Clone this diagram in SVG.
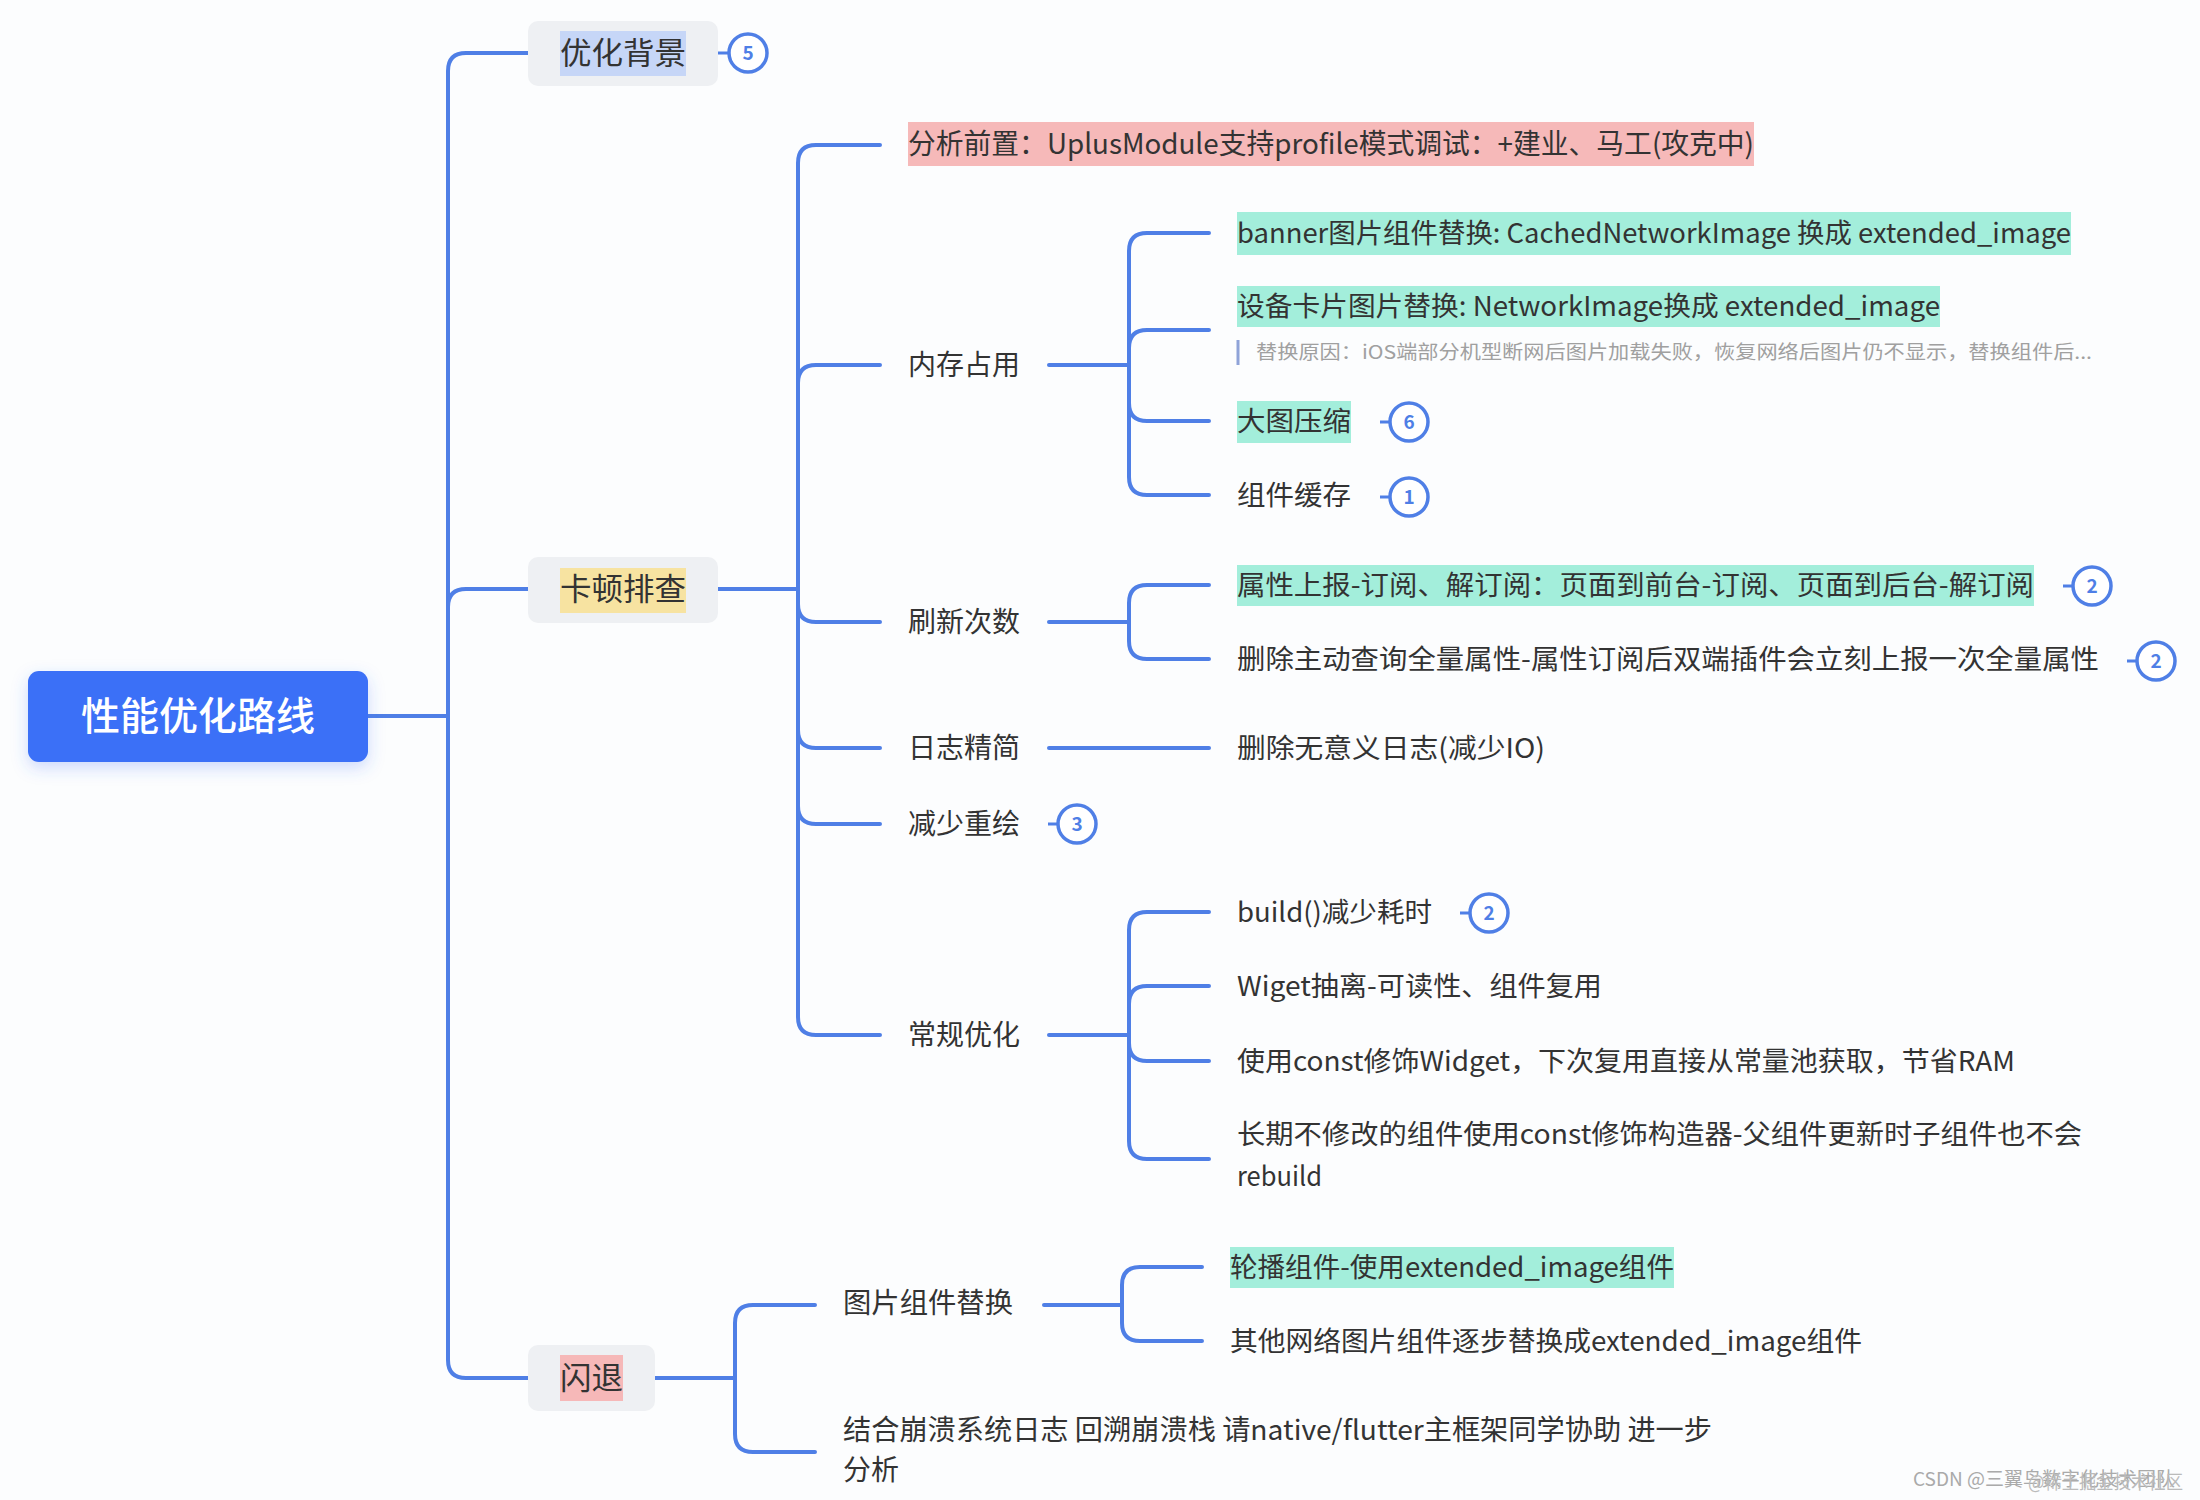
<svg xmlns="http://www.w3.org/2000/svg" width="2200" height="1500" viewBox="0 0 2200 1500">
<defs>
<filter id="sh" x="-20%" y="-30%" width="140%" height="170%">
<feDropShadow dx="0" dy="6" stdDeviation="8" flood-color="#3a6ff7" flood-opacity="0.25"/>
</filter>
<style>
text{font-family:"Noto Sans CJK SC","Noto Sans",sans-serif;fill:#333;}
.c{fill:none;stroke:#4f7fe6;stroke-width:4;stroke-linecap:round;}
.box{fill:#eef0f3;}
.l2{font-size:28px;}
.l3{font-size:27px;}
.teal{fill:#a3eedb;}
.pink{fill:#f6b9b9;}
.badge circle{fill:#fff;stroke:#4f7fe6;stroke-width:3.5;}
.badge line{stroke:#4f7fe6;stroke-width:3;}
.badge text{font-size:19px;font-weight:bold;fill:#4f7fe6;text-anchor:middle;}
.note{font-size:19px;fill:#a0a0a0;}
.wm{font-size:19px;fill:#aaa;}
</style>
</defs>
<rect width="2200" height="1500" fill="#fcfdfe"/>

<g id="connectors">
<path class="c" d="M368,716 H448"/>
<path class="c" d="M448,716 V71 Q448,53 466,53 H528"/>
<path class="c" d="M448,700 V607 Q448,589 466,589 H528"/>
<path class="c" d="M448,716 V1360 Q448,1378 466,1378 H528"/>
<path class="c" d="M718,589 H798"/>
<path class="c" d="M798,589 V163 Q798,145 816,145 H880"/>
<path class="c" d="M798,589 V383 Q798,365 816,365 H880"/>
<path class="c" d="M798,589 V604 Q798,622 816,622 H880"/>
<path class="c" d="M798,589 V730 Q798,748 816,748 H880"/>
<path class="c" d="M798,589 V806 Q798,824 816,824 H880"/>
<path class="c" d="M798,589 V1017 Q798,1035 816,1035 H880"/>
<path class="c" d="M1049,365 H1129"/>
<path class="c" d="M1129,365 V251 Q1129,233 1147,233 H1209"/>
<path class="c" d="M1129,365 V348 Q1129,330 1147,330 H1209"/>
<path class="c" d="M1129,365 V403 Q1129,421 1147,421 H1209"/>
<path class="c" d="M1129,365 V477 Q1129,495 1147,495 H1209"/>
<path class="c" d="M1049,622 H1129"/>
<path class="c" d="M1129,622 V603 Q1129,585 1147,585 H1209"/>
<path class="c" d="M1129,622 V641 Q1129,659 1147,659 H1209"/>
<path class="c" d="M1049,748 H1209"/>
<path class="c" d="M1049,1035 H1129"/>
<path class="c" d="M1129,1035 V930 Q1129,912 1147,912 H1209"/>
<path class="c" d="M1129,1035 V1004 Q1129,986 1147,986 H1209"/>
<path class="c" d="M1129,1035 V1043 Q1129,1061 1147,1061 H1209"/>
<path class="c" d="M1129,1035 V1141 Q1129,1159 1147,1159 H1209"/>
<path class="c" d="M655,1378 H735"/>
<path class="c" d="M735,1378 V1323 Q735,1305 753,1305 H815"/>
<path class="c" d="M735,1378 V1434 Q735,1452 753,1452 H815"/>
<path class="c" d="M1044,1305 H1122"/>
<path class="c" d="M1122,1305 V1285 Q1122,1267 1140,1267 H1202"/>
<path class="c" d="M1122,1305 V1323 Q1122,1341 1140,1341 H1202"/>
</g>

<g id="root">
<rect x="28" y="671" width="340" height="91" rx="11" fill="#3a6ff7" filter="url(#sh)"/>
<text x="198" y="730" font-size="39" text-anchor="middle" style="fill:#fff;font-weight:500">性能优化路线</text>
</g>

<g id="n-bg">
<rect class="box" x="528" y="21" width="190" height="65" rx="10"/>
<rect x="560" y="31" width="126" height="45" fill="#c6d6f7"/>
<text x="560" y="64" font-size="31" textLength="126" lengthAdjust="spacingAndGlyphs">优化背景</text>
<g class="badge"><line x1="718" y1="53" x2="728" y2="53"/><circle cx="748" cy="53" r="19"/><text x="748" y="60">5</text></g>
</g>

<g id="n-kd">
<rect class="box" x="528" y="557" width="190" height="66" rx="10"/>
<rect x="560" y="568" width="126" height="45" fill="#f7e3a1"/>
<text x="560" y="600" font-size="31" textLength="126" lengthAdjust="spacingAndGlyphs">卡顿排查</text>
</g>

<g id="n-st">
<rect class="box" x="528" y="1345" width="127" height="66" rx="10"/>
<rect x="560" y="1355" width="63" height="46" fill="#f6b8b8"/>
<text x="560" y="1389" font-size="31" textLength="63" lengthAdjust="spacingAndGlyphs">闪退</text>
</g>

<g id="n-fx">
<rect class="pink" x="908" y="122" width="846" height="44"/>
<text class="l2" x="908" y="154" textLength="846" lengthAdjust="spacingAndGlyphs">分析前置：UplusModule支持profile模式调试：+建业、马工(攻克中)</text>
</g>

<g id="n-nc"><text class="l2" x="908" y="375" textLength="112" lengthAdjust="spacingAndGlyphs">内存占用</text></g>
<g id="n-sx"><text class="l2" x="908" y="632" textLength="112" lengthAdjust="spacingAndGlyphs">刷新次数</text></g>
<g id="n-rz"><text class="l2" x="908" y="758" textLength="112" lengthAdjust="spacingAndGlyphs">日志精简</text></g>
<g id="n-jc">
<text class="l2" x="908" y="834" textLength="112" lengthAdjust="spacingAndGlyphs">减少重绘</text>
<g class="badge"><line x1="1048" y1="824" x2="1058" y2="824"/><circle cx="1077" cy="824" r="19"/><text x="1077" y="831">3</text></g>
</g>
<g id="n-cg"><text class="l2" x="908" y="1045" textLength="112" lengthAdjust="spacingAndGlyphs">常规优化</text></g>

<g id="n-banner">
<rect class="teal" x="1237" y="212" width="834" height="43"/>
<text class="l3" x="1237" y="243" textLength="834" lengthAdjust="spacingAndGlyphs">banner图片组件替换: CachedNetworkImage 换成 extended_image</text>
</g>
<g id="n-sb">
<rect class="teal" x="1237" y="286" width="703" height="41"/>
<text class="l3" x="1237" y="316" textLength="703" lengthAdjust="spacingAndGlyphs">设备卡片图片替换: NetworkImage换成 extended_image</text>
<line x1="1238" y1="340" x2="1238" y2="365" stroke="#8fa3d8" stroke-width="3"/>
<text class="note" x="1256" y="359" textLength="836" lengthAdjust="spacingAndGlyphs">替换原因：iOS端部分机型断网后图片加载失败，恢复网络后图片仍不显示，替换组件后...</text>
</g>
<g id="n-dt">
<rect class="teal" x="1237" y="401" width="114" height="42"/>
<text class="l3" x="1237" y="431" textLength="114" lengthAdjust="spacingAndGlyphs">大图压缩</text>
<g class="badge"><line x1="1380" y1="422" x2="1390" y2="422"/><circle cx="1409" cy="422" r="19"/><text x="1409" y="429">6</text></g>
</g>
<g id="n-zj">
<text class="l3" x="1237" y="505" textLength="114" lengthAdjust="spacingAndGlyphs">组件缓存</text>
<g class="badge"><line x1="1380" y1="497" x2="1390" y2="497"/><circle cx="1409" cy="497" r="19"/><text x="1409" y="504">1</text></g>
</g>
<g id="n-sxsb">
<rect class="teal" x="1237" y="565" width="797" height="41"/>
<text class="l3" x="1237" y="595" textLength="797" lengthAdjust="spacingAndGlyphs">属性上报-订阅、解订阅：页面到前台-订阅、页面到后台-解订阅</text>
<g class="badge"><line x1="2063" y1="586" x2="2073" y2="586"/><circle cx="2092" cy="586" r="19"/><text x="2092" y="593">2</text></g>
</g>
<g id="n-sc">
<text class="l3" x="1237" y="669" textLength="862" lengthAdjust="spacingAndGlyphs">删除主动查询全量属性-属性订阅后双端插件会立刻上报一次全量属性</text>
<g class="badge"><line x1="2127" y1="661" x2="2137" y2="661"/><circle cx="2156" cy="661" r="19"/><text x="2156" y="668">2</text></g>
</g>
<g id="n-wyy">
<text class="l3" x="1237" y="758" textLength="308" lengthAdjust="spacingAndGlyphs">删除无意义日志(减少IO)</text>
</g>
<g id="n-build">
<text class="l3" x="1237" y="922" textLength="195" lengthAdjust="spacingAndGlyphs">build()减少耗时</text>
<g class="badge"><line x1="1460" y1="913" x2="1470" y2="913"/><circle cx="1489" cy="913" r="19"/><text x="1489" y="920">2</text></g>
</g>
<g id="n-wiget"><text class="l3" x="1237" y="996" textLength="365" lengthAdjust="spacingAndGlyphs">Wiget抽离-可读性、组件复用</text></g>
<g id="n-const"><text class="l3" x="1237" y="1071" textLength="778" lengthAdjust="spacingAndGlyphs">使用const修饰Widget，下次复用直接从常量池获取，节省RAM</text></g>
<g id="n-cq">
<text class="l3" x="1237" y="1144" textLength="845" lengthAdjust="spacingAndGlyphs">长期不修改的组件使用const修饰构造器-父组件更新时子组件也不会</text>
<text class="l3" x="1237" y="1186" textLength="85" lengthAdjust="spacingAndGlyphs">rebuild</text>
</g>
<g id="n-tp"><text class="l2" x="843" y="1313" textLength="170" lengthAdjust="spacingAndGlyphs">图片组件替换</text></g>
<g id="n-jh">
<text class="l2" x="843" y="1440" textLength="869" lengthAdjust="spacingAndGlyphs">结合崩溃系统日志 回溯崩溃栈 请native/flutter主框架同学协助 进一步</text>
<text class="l2" x="843" y="1480" textLength="56" lengthAdjust="spacingAndGlyphs">分析</text>
</g>
<g id="n-lb">
<rect class="teal" x="1230" y="1247" width="444" height="41"/>
<text class="l3" x="1230" y="1277" textLength="444" lengthAdjust="spacingAndGlyphs">轮播组件-使用extended_image组件</text>
</g>
<g id="n-qt"><text class="l3" x="1230" y="1351" textLength="632" lengthAdjust="spacingAndGlyphs">其他网络图片组件逐步替换成extended_image组件</text></g>

<text class="wm" x="1913" y="1486" textLength="262" lengthAdjust="spacingAndGlyphs">CSDN @三翼鸟数字化技术团队</text>
<text class="wm" x="2028" y="1489" textLength="155" lengthAdjust="spacingAndGlyphs" style="fill:#bbb">@稀土掘金技术社区</text>
</svg>
